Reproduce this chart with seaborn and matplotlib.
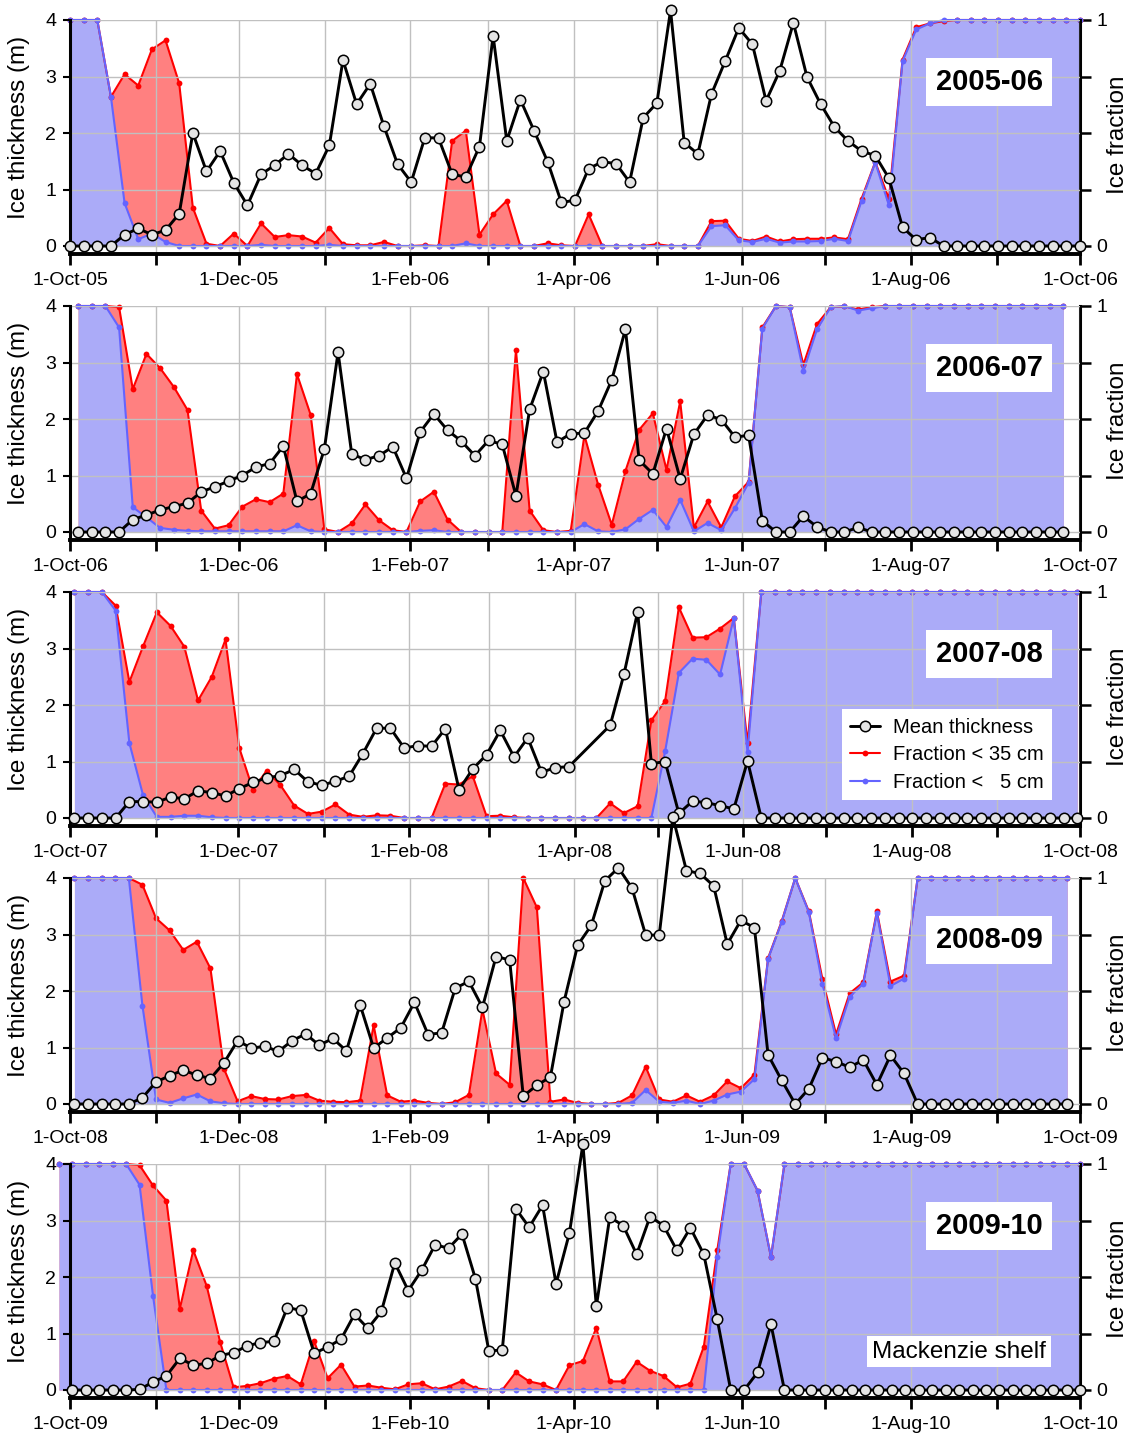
import numpy as np
import pandas as pd
import matplotlib
matplotlib.use("Agg")
import matplotlib.pyplot as plt
import matplotlib.dates as mdates
from matplotlib.lines import Line2D
from matplotlib.ticker import FuncFormatter, FixedLocator
import seaborn as sns

# ---------------- data ----------------
seasons = ["2005-06", "2006-07", "2007-08", "2008-09", "2009-10"]
start_years = [2005, 2006, 2007, 2008, 2009]
# sampling of each season: first day, last day (relative to 1 Oct), number of samples
sampling = [(0, 365, 75), (2.9, 359, 73), (1.6, 365, 74), (1.6, 360.4, 74), (-4, 365, 77)]

nan = np.nan

thick_0506 = [0, 0, 0, 0, 0.2, 0.31, 0.2, 0.28, 0.57, 2.0,
              1.32, 1.68, 1.12, 0.72, 1.27, 1.43, 1.63, 1.43, 1.28, 1.78,
              3.29, 2.51, 2.87, 2.12, 1.45, 1.13, 1.92, 1.91, 1.27, 1.22,
              1.76, 3.72, 1.86, 2.59, 2.04, 1.49, 0.77, 0.81, 1.37, 1.49,
              1.46, 1.13, 2.27, 2.53, 4.17, 1.83, 1.63, 2.69, 3.27, 3.86,
              3.57, 2.57, 3.1, 3.95, 2.99, 2.51, 2.11, 1.86, 1.68, 1.6,
              1.2, 0.33, 0.11, 0.15, 0, 0, 0, 0, 0, 0,
              0, 0, 0, 0, 0]
f35_0506 = [1, 1, 1, 0.66, 0.76, 0.71, 0.87, 0.91, 0.72, 0.17,
            0.01, 0, 0.055, 0, 0.1, 0.04, 0.048, 0.042, 0.015, 0.08,
            0.008, 0.003, 0.003, 0.018, 0, 0, 0.003, 0, 0.465, 0.51,
            0.05, 0.14, 0.2, 0, 0, 0.012, 0.003, 0, 0.14, 0,
            0, 0, 0, 0.008, 0, 0, 0, 0.11, 0.112, 0.032,
            0.022, 0.042, 0.02, 0.03, 0.032, 0.032, 0.038, 0.03, 0.21, 0.372,
            0.208, 0.825, 0.968, 0.985, 0.995, 1, 1, 1, 1, 1,
            1, 1, 1, 1, 1]
f5_0506 = [1, 1, 1, 0.66, 0.19, 0.03, 0.055, 0.018, 0, 0,
           0, 0, 0, 0, 0.005, 0, 0, 0, 0, 0.005,
           0, 0, 0, 0, 0, 0, 0, 0, 0, 0.012,
           0, 0, 0, 0, 0, 0, 0, 0, 0, 0,
           0, 0, 0, 0, 0, 0, 0, 0.088, 0.092, 0.025,
           0.018, 0.032, 0.015, 0.02, 0.02, 0.022, 0.032, 0.022, 0.2, 0.37,
           0.18, 0.818, 0.958, 0.985, 1, 1, 1, 1, 1, 1,
           1, 1, 1, 1, 1]

thick_0607 = [0, 0, 0, 0, 0.22, 0.3, 0.39, 0.45, 0.51, 0.71,
              0.8, 0.9, 1.0, 1.15, 1.21, 1.52, 0.54, 0.68, 1.47, 3.18,
              1.38, 1.28, 1.35, 1.51, 0.95, 1.77, 2.09, 1.8, 1.61, 1.35,
              1.62, 1.55, 0.64, 2.17, 2.84, 1.59, 1.74, 1.75, 2.14, 2.69,
              3.59, 1.27, 1.03, 1.83, 0.94, 1.73, 2.07, 1.99, 1.68, 1.71,
              0.2, 0, 0, 0.28, 0.09, 0, 0, 0.08, 0, 0,
              0, 0, 0, 0, 0, 0, 0, 0, 0, 0,
              0, 0, 0]
f35_0607 = [1, 1, 1, 0.995, 0.632, 0.788, 0.725, 0.642, 0.54, 0.095,
            0.015, 0.03, 0.112, 0.145, 0.132, 0.17, 0.698, 0.518, 0.012, 0,
            0.038, 0.122, 0.052, 0.008, 0, 0.135, 0.178, 0.055, 0, 0,
            0, 0, 0.805, 0.095, 0.008, 0, 0.005, 0.428, 0.21, 0.032,
            0.27, 0.452, 0.525, 0.275, 0.578, 0.02, 0.135, 0.02, 0.158, 0.222,
            0.905, 1, 0.995, 0.74, 0.92, 0.995, 0.998, 0.985, 0.995, 1,
            1, 1, 1, 1, 1, 1, 1, 1, 1, 1,
            1, 1, 1]
f5_0607 = [1, 1, 1, 0.905, 0.11, 0.065, 0.018, 0.01, 0.005, 0.003,
           0.003, 0.003, 0.003, 0.003, 0.003, 0.003, 0.03, 0.003, 0, 0,
           0, 0, 0, 0, 0, 0.005, 0.008, 0, 0, 0,
           0, 0, 0, 0, 0, 0, 0, 0.035, 0.003, 0,
           0.012, 0.058, 0.098, 0.022, 0.142, 0.003, 0.04, 0.008, 0.105, 0.218,
           0.9, 1, 0.995, 0.712, 0.898, 0.995, 1, 0.98, 0.99, 1,
           1, 1, 1, 1, 1, 1, 1, 1, 1, 1,
           1, 1, 1]

thick_0708 = [0, 0, 0, 0, 0.29, 0.29, 0.28, 0.37, 0.34, 0.48,
              0.45, 0.39, 0.52, 0.63, 0.71, 0.75, 0.86, 0.64, 0.58, 0.65,
              0.74, 1.14, 1.59, 1.59, 1.24, 1.28, 1.27, 1.58, 0.5, 0.87,
              1.12, 1.55, 1.08, 1.42, 0.81, 0.89, 0.91, nan, nan, 1.64,
              2.54, 3.65, 0.96, 1.0, 0.08, 0.3, 0.27, 0.22, 0.16, 1.01] + [0] * 24
f35_0708 = [1, 1, 1, 0.94, 0.602, 0.76, 0.91, 0.85, 0.758, 0.52,
            0.625, 0.79, 0.31, 0.125, 0.21, 0.145, 0.055, 0.018, 0.028, 0.06,
            0.015, 0.005, 0.012, 0.01, 0, 0, 0, 0.152, 0.148, 0.185,
            0.008, 0.01, 0.003, 0, 0, 0, 0, 0, 0, 0.065,
            0.022, 0.052, 0.432, 0.518, 0.932, 0.798, 0.8, 0.838, 0.885, 0.33] + [1] * 24
f5_0708 = [1, 1, 1, 0.918, 0.332, 0.1, 0.005, 0.005, 0.01, 0.01,
           0.003, 0, 0, 0, 0, 0, 0, 0, 0, 0,
           0, 0, 0, 0, 0, 0, 0, 0, 0, 0,
           0, 0, 0, 0, 0, 0, 0, 0, 0, 0,
           0, 0, 0, 0.295, 0.642, 0.705, 0.7, 0.635, 0.885, 0.29] + [1] * 24

thick_0809 = [0, 0, 0, 0, 0, 0.11, 0.39, 0.5, 0.6, 0.51,
              0.45, 0.73, 1.12, 0.99, 1.02, 0.93, 1.12, 1.24, 1.04, 1.16,
              0.94, 1.76, 0.99, 1.17, 1.35, 1.8, 1.23, 1.26, 2.05, 2.17,
              1.71, 2.61, 2.55, 0.14, 0.33, 0.48, 1.81, 2.81, 3.16, 3.95,
              4.18, 3.82, 2.99, 2.99, 5.08, 4.13, 4.08, 3.86, 2.83, 3.25,
              3.12, 0.87, 0.42, 0, 0.27, 0.82, 0.75, 0.65, 0.78, 0.34,
              0.86, 0.54, 0, 0, 0, 0, 0, 0, 0, 0,
              0, 0, 0, 0]
f35_0809 = [1, 1, 1, 1, 1, 0.97, 0.822, 0.768, 0.682, 0.718,
            0.6, 0.155, 0.012, 0.035, 0.022, 0.02, 0.035, 0.04, 0.015, 0.01,
            0.008, 0.015, 0.348, 0.038, 0.01, 0.015, 0.005, 0, 0.008, 0.04,
            0.418, 0.135, 0.085, 1.0, 0.87, 0.01, 0.02, 0.005, 0, 0,
            0.005, 0.038, 0.165, 0.02, 0.01, 0.038, 0.01, 0.038, 0.1, 0.07,
            0.13, 0.645, 0.808, 1, 0.852, 0.552, 0.308, 0.49, 0.538, 0.852,
            0.542, 0.568, 1, 1, 1, 1, 1, 1, 1, 1,
            1, 1, 1, 1]
f5_0809 = [1, 1, 1, 1, 1, 0.435, 0.02, 0.005, 0.025, 0.042,
           0.012, 0.003, 0, 0, 0, 0, 0, 0, 0, 0,
           0, 0, 0, 0, 0, 0, 0, 0, 0, 0,
           0, 0, 0, 0, 0, 0, 0, 0, 0, 0,
           0, 0.005, 0.062, 0.01, 0.005, 0.015, 0, 0.015, 0.042, 0.055,
           0.11, 0.642, 0.805, 1, 0.848, 0.53, 0.29, 0.475, 0.532, 0.845,
           0.522, 0.555, 1, 1, 1, 1, 1, 1, 1, 1,
           1, 1, 1, 1]

thick_0910 = [nan, 0, 0, 0, 0, 0, 0.01, 0.14, 0.25, 0.56,
              0.44, 0.47, 0.61, 0.66, 0.78, 0.84, 0.86, 1.46, 1.41, 0.65,
              0.76, 0.9, 1.34, 1.09, 1.39, 2.25, 1.76, 2.12, 2.57, 2.51,
              2.76, 1.97, 0.69, 0.71, 3.21, 2.88, 3.27, 1.88, 2.78, 4.35,
              1.48, 3.06, 2.91, 2.4, 3.07, 2.91, 2.47, 2.87, 2.4, 1.25,
              0, 0, 0.31, 1.16, 0] + [0] * 22
f35_0910 = [1, 1, 1, 1, 1, 1, 0.995, 0.905, 0.838, 0.36,
            0.618, 0.46, 0.212, 0.012, 0.018, 0.03, 0.05, 0.062, 0.025, 0.215,
            0.052, 0.112, 0.015, 0.02, 0.01, 0.003, 0.025, 0.03, 0.003, 0.015,
            0.04, 0.008, 0, 0, 0.078, 0.038, 0.025, 0, 0.11, 0.128,
            0.275, 0.038, 0.038, 0.125, 0.085, 0.062, 0.012, 0.028, 0.192, 0.618,
            1, 1, 0.882, 0.588, 1] + [1] * 22
f5_0910 = [1, 1, 1, 1, 1, 1, 0.908, 0.418, 0, 0,
           0, 0, 0, 0, 0, 0, 0, 0, 0, 0,
           0, 0, 0, 0, 0, 0, 0, 0, 0, 0,
           0, 0, 0, 0, 0, 0, 0, 0, 0, 0,
           0, 0, 0, 0, 0, 0, 0, 0, 0, 0.588,
           1, 1, 0.882, 0.588, 1] + [1] * 22

thickness = [thick_0506, thick_0607, thick_0708, thick_0809, thick_0910]
frac35 = [f35_0506, f35_0607, f35_0708, f35_0809, f35_0910]
frac5 = [f5_0506, f5_0607, f5_0708, f5_0809, f5_0910]

legend_labels = ["Mean thickness", "Fraction < 35 cm", "Fraction <   5 cm"]

# ---------------- style ----------------
sns.set_theme(style="white")
plt.rcParams["font.family"] = ["Liberation Sans", "DejaVu Sans"]

RED = "#FF0000"
RED_FILL = "#FF8080"
BLUE = "#6464FF"
BLUE_FILL = "#ABABF8"
GRID = "#C0C0C0"

W, H = 1131, 1439
fig = plt.figure(figsize=(W / 100, H / 100), dpi=100)

left_px, right_px = 70, 1080
tops = [20, 306, 592, 878, 1164]
plot_h = 226          # 0..4 m
pad_h = 7.5           # axis line offset below zero
ylow = -pad_h / plot_h * 4


def fmt_date(x, pos=None):
    d = mdates.num2date(x)
    return f"{d.day}-{d.strftime('%b')}-{d.strftime('%y')}"


for i in range(5):
    top = tops[i]
    bottom = top + plot_h + pad_h
    ax = fig.add_axes([left_px / W, 1 - bottom / H, (right_px - left_px) / W, (plot_h + pad_h) / H])
    ax2 = ax.twinx()
    ax.set_zorder(2)
    ax.patch.set_visible(False)
    ax2.set_zorder(1)

    y0 = start_years[i]
    d0, d1, n = sampling[i]
    base = pd.Timestamp(f"{y0}-10-01")
    dates = base + pd.to_timedelta(np.linspace(d0, d1, n), unit="D")
    df = pd.DataFrame({"date": dates, "thick": thickness[i],
                       "f35": frac35[i], "f5": frac5[i]})

    # ice fraction areas (right axis)
    ax2.fill_between(df["date"], 0, df["f35"], color=RED_FILL, lw=0, clip_on=False, zorder=1)
    ax2.fill_between(df["date"], 0, df["f5"], color=BLUE_FILL, lw=0, clip_on=False, zorder=1.2)
    sns.lineplot(data=df, x="date", y="f35", ax=ax2, color=RED, lw=1.5,
                 marker="o", markersize=4.2, markeredgewidth=0, clip_on=False, zorder=2)
    sns.lineplot(data=df, x="date", y="f5", ax=ax2, color=BLUE, lw=1.5,
                 marker="o", markersize=4.2, markeredgewidth=0, clip_on=False, zorder=2.2)

    # mean thickness (left axis)
    dft = df.dropna(subset=["thick"])
    sns.lineplot(data=dft, x="date", y="thick", ax=ax, color="black", lw=2.1,
                 marker="o", markersize=7.5, markerfacecolor="#E4E4E4",
                 markeredgecolor="black", markeredgewidth=1.1, clip_on=False, zorder=3)

    xmin = pd.Timestamp(f"{y0}-10-01")
    xmax = pd.Timestamp(f"{y0 + 1}-10-01")
    ax.set_xlim(xmin, xmax)
    ax.set_ylim(ylow, 4)
    ax2.set_ylim(ylow / 4, 1)

    ax.xaxis.set_major_locator(mdates.MonthLocator(bymonth=[10, 12, 2, 4, 6, 8]))
    ax.xaxis.set_minor_locator(mdates.MonthLocator())
    ax.xaxis.set_major_formatter(FuncFormatter(fmt_date))
    ax.set_yticks([0, 1, 2, 3, 4])
    ax.set_yticklabels(["0", "1", "2", "3", "4"])
    ax2.yaxis.set_major_locator(FixedLocator([0, 0.25, 0.5, 0.75, 1]))
    ax2.set_yticklabels(["0", "", "", "", "1"])

    ax.set_axisbelow(True)
    ax.grid(True, which="both", axis="x", color=GRID, lw=1.0)
    ax.grid(True, which="major", axis="y", color=GRID, lw=1.0)
    ax2.grid(False)

    for s in ["top", "right"]:
        ax.spines[s].set_visible(False)
    for s in ["top", "left", "bottom"]:
        ax2.spines[s].set_visible(False)
    ax.spines["left"].set_color("black")
    ax.spines["left"].set_linewidth(2.2)
    ax.spines["bottom"].set_color("black")
    ax.spines["bottom"].set_linewidth(2.8)
    ax2.spines["right"].set_color("black")
    ax2.spines["right"].set_linewidth(2.2)

    ax.tick_params(axis="x", which="both", bottom=True, direction="out", length=8,
                   width=2, color="black", labelsize=14, pad=5, labelcolor="black")
    ax.tick_params(axis="y", which="major", left=True, direction="out", length=5,
                   width=1.5, color="black", labelsize=14, pad=5, labelcolor="black")
    ax2.tick_params(axis="y", which="major", right=True, direction="out", length=8,
                    width=1.8, color="black", labelsize=14, pad=4, labelcolor="black")

    ax.set_xlabel("")
    ax2.set_xlabel("")
    ax.set_ylabel("Ice thickness (m)", fontsize=17.5, color="black")
    ax2.set_ylabel("Ice fraction", fontsize=17.5, color="black")
    ax.yaxis.set_label_coords(-0.040, 0.54)
    ax2.yaxis.set_label_coords(1.027, 0.51)

    ax.text(0.91, 0.734, seasons[i], transform=ax.transAxes, ha="center", va="center",
            fontsize=21, fontweight="bold", color="black", zorder=10,
            bbox=dict(facecolor="white", edgecolor="none", boxstyle="square,pad=0.33"))

    if i == 2:
        handles = [
            Line2D([], [], color="black", lw=2.1, marker="o", markersize=7.5,
                   markerfacecolor="#E4E4E4", markeredgecolor="black", markeredgewidth=1.1),
            Line2D([], [], color=RED, lw=1.5, marker="o", markersize=4.2, markeredgewidth=0),
            Line2D([], [], color=BLUE, lw=1.5, marker="o", markersize=4.2, markeredgewidth=0),
        ]
        leg = ax.legend(handles, legend_labels, loc="lower right", bbox_to_anchor=(0.972, 0.109),
                        borderaxespad=0, frameon=True, fancybox=False, framealpha=1,
                        edgecolor="none", facecolor="white", fontsize=14.5, handlelength=1.5,
                        handletextpad=0.6, labelspacing=0.42, borderpad=0.42)
        leg.set_zorder(20)
        for t in leg.get_texts():
            t.set_color("black")

    if i == 4:
        ax.text(0.880, 0.197, "Mackenzie shelf", transform=ax.transAxes, ha="center",
                va="center", fontsize=17.5, color="black", zorder=10,
                bbox=dict(facecolor="white", edgecolor="none", boxstyle="square,pad=0.2"))

fig.savefig("out.png", dpi=100)
